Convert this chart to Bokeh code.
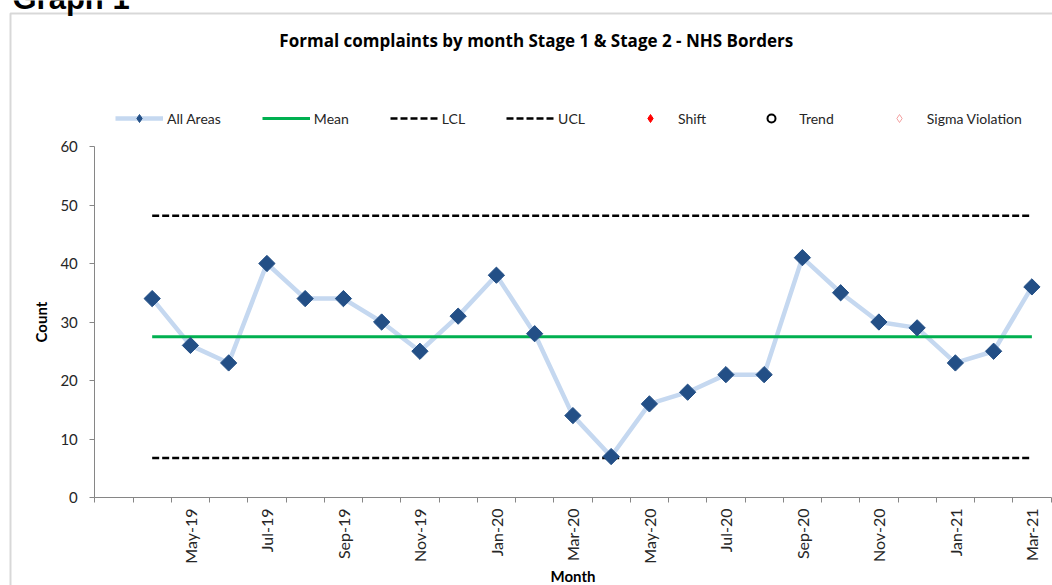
import math
from bokeh.plotting import figure
from bokeh.models import (Legend, LegendItem, FixedTicker, Label, BoxAnnotation,
                          ColumnDataSource, Range1d)
from bokeh.embed import file_html
from bokeh.resources import INLINE

# ---------------- data ----------------
months = ["Apr-19", "May-19", "Jun-19", "Jul-19", "Aug-19", "Sep-19", "Oct-19", "Nov-19",
          "Dec-19", "Jan-20", "Feb-20", "Mar-20", "Apr-20", "May-20", "Jun-20", "Jul-20",
          "Aug-20", "Sep-20", "Oct-20", "Nov-20", "Dec-20", "Jan-21", "Feb-21", "Mar-21"]
counts = [34, 26, 23, 40, 34, 34, 30, 25, 31, 38, 28, 14,
          7, 16, 18, 21, 21, 41, 35, 30, 29, 23, 25, 36]
mean_value = 27.46
lcl_value = 6.76
ucl_value = 48.16
y_ticks = [0, 10, 20, 30, 40, 50, 60]
y_max = 60

# category slots: slot 0 is an empty leading category, months occupy slots 1..24
n_slots = len(months) + 1
xpos = [i + 1.5 for i in range(len(months))]
NAN = float("nan")

# ---------------- layout (pixels) ----------------
W, H = 1052, 585
AX_LEFT, AX_RIGHT = 94.3, 1050.5      # plot-area left/right edge
AX_TOP, AX_BOTTOM = 146.0, 497.0      # y = 60 / y = 0
px_per_x = (AX_RIGHT - AX_LEFT) / n_slots
px_per_y = (AX_BOTTOM - AX_TOP) / y_max

FONT = "Lato"
TXT = "#262626"
AXIS_C = "#868686"

p = figure(width=W, height=H, output_backend="svg", toolbar_location=None,
           x_range=Range1d(-AX_LEFT / px_per_x, (W - AX_LEFT) / px_per_x),
           y_range=Range1d(-(H - AX_BOTTOM) / px_per_y, AX_BOTTOM / px_per_y),
           min_border=0)
p.title.visible = False
p.xgrid.visible = False
p.ygrid.visible = False
p.outline_line_color = None
p.background_fill_color = "white"
p.border_fill_color = "white"

src = ColumnDataSource(dict(x=xpos, y=counts, m=months))
r_line = p.line("x", "y", source=src, line_color="#C5D8F0", line_width=4.5)
r_mean = p.line(xpos, [mean_value] * len(xpos), line_color="#00B050", line_width=3)
r_lcl = p.line(xpos, [lcl_value] * len(xpos), line_color="black", line_width=2.5, line_dash="7 3")
r_ucl = p.line(xpos, [ucl_value] * len(xpos), line_color="black", line_width=2.5, line_dash="7 3")
r_pts = p.scatter("x", "y", source=src, marker="square", size=11.5, angle=math.pi / 4,
                  fill_color="#234F86", line_color="#234F86", line_width=1)

# legend-only glyphs (no shift / trend / sigma violations in this series)
r_key = p.scatter([NAN], [NAN], marker="diamond", size=10,
                  fill_color="#234F86", line_color="#234F86")
r_shift = p.scatter([NAN], [NAN], marker="diamond", size=10,
                    fill_color="#FF0000", line_color="#FF0000")
r_trend = p.scatter([NAN], [NAN], marker="circle", size=8, fill_color=None,
                    line_color="black", line_width=2)
r_sigma = p.scatter([NAN], [NAN], marker="diamond", size=10,
                    fill_color=None, line_color="#F4A0A0", line_width=1)

# axes, pinned at the data origin
p.yaxis.fixed_location = 0
p.yaxis.bounds = (0, y_max)
p.yaxis.ticker = FixedTicker(ticks=y_ticks)
p.yaxis.axis_line_color = AXIS_C
p.yaxis.major_tick_line_color = AXIS_C
p.yaxis.major_tick_out = 5
p.yaxis.major_tick_in = 0
p.yaxis.minor_tick_line_color = None
p.yaxis.major_label_text_font = FONT
p.yaxis.major_label_text_font_size = "15px"
p.yaxis.major_label_text_color = TXT
p.yaxis.major_label_standoff = 12
p.yaxis.axis_label = "Count"
p.yaxis.axis_label_text_font = FONT
p.yaxis.axis_label_text_font_size = "15px"
p.yaxis.axis_label_text_font_style = "bold"
p.yaxis.axis_label_text_color = "black"
p.yaxis.axis_label_standoff = 7

label_slots = [i + 1 for i in range(len(months)) if (i + 1) % 2 == 0]
p.xaxis.fixed_location = 0
p.xaxis.bounds = (0, n_slots)
p.xaxis.ticker = FixedTicker(ticks=[s + 0.5 for s in label_slots],
                             minor_ticks=list(range(n_slots + 1)))
p.xaxis.major_label_overrides = {s + 0.5: months[s - 1] for s in label_slots}
p.xaxis.axis_line_color = AXIS_C
p.xaxis.major_tick_line_color = None
p.xaxis.major_tick_out = 5
p.xaxis.major_tick_in = 0
p.xaxis.minor_tick_line_color = AXIS_C
p.xaxis.minor_tick_out = 5
p.xaxis.minor_tick_in = 0
p.xaxis.major_label_orientation = math.pi / 2
p.xaxis.major_label_text_font = FONT
p.xaxis.major_label_text_font_size = "16px"
p.xaxis.major_label_text_color = TXT
p.xaxis.major_label_standoff = 6
p.xaxis.axis_label = "Month"
p.xaxis.axis_label_text_font = FONT
p.xaxis.axis_label_text_font_size = "15px"
p.xaxis.axis_label_text_font_style = "bold"
p.xaxis.axis_label_text_color = "black"
p.xaxis.axis_label_standoff = 0

legend = Legend(items=[
    LegendItem(label="All Areas", renderers=[r_line, r_key]),
    LegendItem(label="Mean", renderers=[r_mean]),
    LegendItem(label="LCL", renderers=[r_lcl]),
    LegendItem(label="UCL", renderers=[r_ucl]),
    LegendItem(label="Shift", renderers=[r_shift]),
    LegendItem(label="Trend", renderers=[r_trend]),
    LegendItem(label="Sigma Violation", renderers=[r_sigma]),
], orientation="horizontal", location=(115, H - 128), padding=0, margin=0,
    glyph_width=48, glyph_height=20, label_standoff=4, spacing=41,
    label_text_font=FONT, label_text_font_size="14px", label_text_color=TXT,
    border_line_color=None, background_fill_alpha=0)
p.add_layout(legend, "center")

# outer chart box, title and heading
box = BoxAnnotation(left=10, right=1080, top=13, bottom=620,
                    left_units="canvas", right_units="canvas",
                    top_units="canvas", bottom_units="canvas",
                    fill_color=None, fill_alpha=0, line_color="#7F7F7F", line_width=2)
p.add_layout(box)

title = Label(x=538, y=40, x_units="canvas", y_units="canvas",
              text="Formal complaints by month  Stage 1 & Stage 2 - NHS Borders",
              text_font="Open Sans", text_font_size="17px", text_font_style="bold",
              text_color="black", text_align="center", text_baseline="middle")
p.add_layout(title)

heading = Label(x=12, y=-2, x_units="canvas", y_units="canvas", text="Graph 1",
                text_font="Liberation Sans", text_font_size="31px", text_font_style="bold",
                text_color="black", text_align="left", text_baseline="alphabetic")
p.add_layout(heading)

open("out.html", "w").write(file_html(p, INLINE))
